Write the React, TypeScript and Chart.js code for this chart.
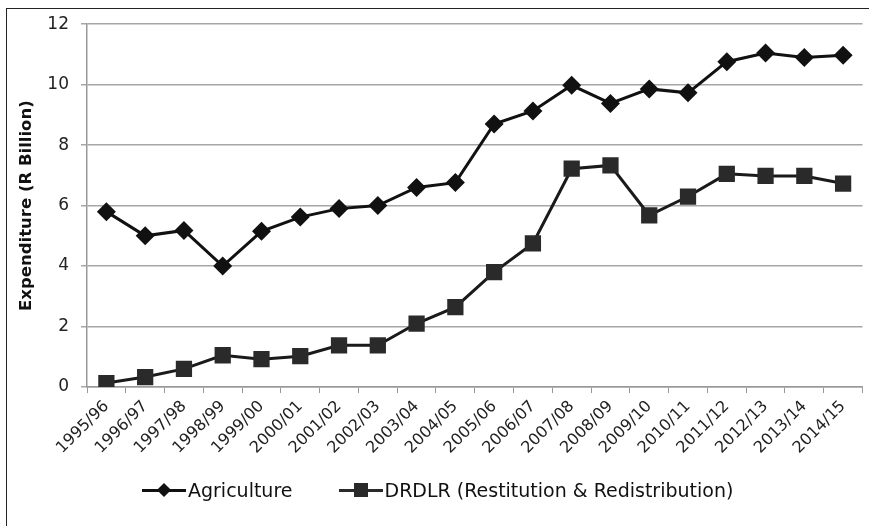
import React, { useEffect, useRef } from "react";
import { Chart, registerables } from "chart.js";

Chart.register(...registerables);

const categories = [
  "1995/96", "1996/97", "1997/98", "1998/99", "1999/00", "2000/01", "2001/02",
  "2002/03", "2003/04", "2004/05", "2005/06", "2006/07", "2007/08", "2008/09",
  "2009/10", "2010/11", "2011/12", "2012/13", "2013/14", "2014/15",
];
const agriculture = [
  5.8, 5.0, 5.18, 4.0, 5.15, 5.62, 5.9, 6.0, 6.6, 6.76, 8.7, 9.13, 9.98, 9.38,
  9.86, 9.73, 10.76, 11.05, 10.9, 10.97,
];
const drdlr = [
  0.13, 0.33, 0.6, 1.05, 0.92, 1.02, 1.38, 1.38, 2.1, 2.64, 3.8, 4.75, 7.22,
  7.33, 5.68, 6.3, 7.05, 6.98, 6.98, 6.73,
];
const yTicks = [0, 2, 4, 6, 8, 10, 12];
const seriesNames = ["Agriculture", "DRDLR (Restitution & Redistribution)"];

const FONT = "'DejaVu Sans', sans-serif";

export default function App() {
  const ref = useRef<HTMLCanvasElement | null>(null);

  useEffect(() => {
    if (!ref.current) return;
    const chart = new Chart(ref.current, {
      type: "line",
      data: {
        labels: categories,
        datasets: [
          {
            label: seriesNames[0],
            data: agriculture,
            borderColor: "#111",
            backgroundColor: "#111",
            borderWidth: 3,
            pointStyle: "rectRot",
            pointRadius: 9.5,
            pointBorderWidth: 0,
            tension: 0,
          },
          {
            label: seriesNames[1],
            data: drdlr,
            borderColor: "#1a1a1a",
            backgroundColor: "#2a2a2a",
            borderWidth: 3,
            pointStyle: "rect",
            pointRadius: 11.5,
            pointBorderWidth: 0,
            tension: 0,
          },
        ],
      },
      options: {
        animation: false,
        responsive: false,
        maintainAspectRatio: false,
        layout: { padding: { top: 6, right: 2, left: 0, bottom: 0 } },
        plugins: { legend: { display: false }, tooltip: { enabled: false } },
        scales: {
          x: {
            type: "category",
            offset: true,
            grid: {
              offset: true,
              drawOnChartArea: false,
              drawTicks: true,
              tickLength: 6,
              color: "#999",
            },
            border: { color: "#999", width: 1.5 },
            ticks: {
              minRotation: 45,
              maxRotation: 45,
              autoSkip: false,
              color: "#222",
              font: { family: FONT, size: 16 },
              padding: 4,
            },
            afterFit: (s: any) => {
              s.height = 100;
            },
          },
          y: {
            min: 0,
            max: 12,
            afterBuildTicks: (s: any) => {
              s.ticks = yTicks.map((v) => ({ value: v }));
            },
            grid: { color: "#a6a6a6", lineWidth: 1.5, tickLength: 6, drawTicks: true },
            border: { color: "#999", width: 1.5 },
            ticks: {
              color: "#222",
              font: { family: FONT, size: 17 },
              padding: 12,
            },
            title: {
              display: true,
              text: "Expenditure (R Billion)",
              color: "#111",
              font: { family: FONT, size: 16.5, weight: "bold" },
              padding: { top: 12, bottom: 0 },
            },
            afterFit: (s: any) => {
              s.width = 82;
            },
          },
        },
      },
    });
    return () => chart.destroy();
  }, []);

  const legendItem = (name: string, shape: "diamond" | "square", color: string) => (
    <div style={{ display: "flex", alignItems: "center" }}>
      <div style={{ position: "relative", width: 44, height: 20, marginRight: 2 }}>
        <div style={{ position: "absolute", left: 0, top: 8.5, width: 44, height: 3, background: color }} />
        <div
          style={{
            position: "absolute",
            left: shape === "diamond" ? 17 : 15,
            top: shape === "diamond" ? 5 : 3,
            width: shape === "diamond" ? 10 : 14,
            height: shape === "diamond" ? 10 : 14,
            background: color,
            transform: shape === "diamond" ? "rotate(45deg)" : "none",
          }}
        />
      </div>
      <span>{name}</span>
    </div>
  );

  return (
    <div style={{ position: "fixed", left: 0, top: 0, width: 869, height: 526, background: "#fff", overflow: "hidden" }}>
      <canvas
        ref={ref}
        width={869}
        height={485}
        style={{ position: "absolute", left: 5, top: 2, width: 869, height: 485 }}
      />
      <div
        style={{
          position: "absolute",
          left: 6,
          top: 8,
          width: 863,
          height: 518,
          borderTop: "1.5px solid #222",
          borderLeft: "1.5px solid #222",
          boxSizing: "border-box",
          pointerEvents: "none",
        }}
      />
      <div
        style={{
          position: "absolute",
          left: 142,
          top: 478,
          display: "flex",
          fontFamily: FONT,
          fontSize: 19,
          lineHeight: "24px",
          color: "#111",
        }}
      >
        {legendItem(seriesNames[0], "diamond", "#111")}
        <div style={{ width: 46 }} />
        {legendItem(seriesNames[1], "square", "#2a2a2a")}
      </div>
    </div>
  );
}
